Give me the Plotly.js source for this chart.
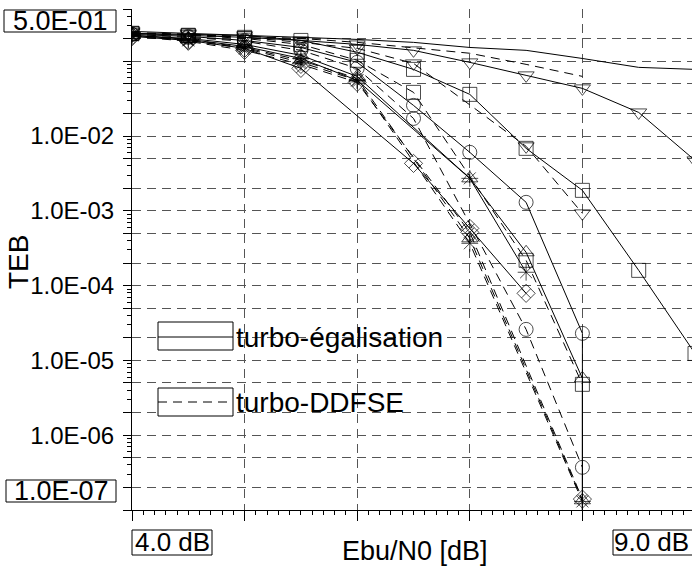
<!DOCTYPE html>
<html><head><meta charset="utf-8">
<script src="https://cdn.plot.ly/plotly-3.0.1.min.js"></script>
<style>html,body{margin:0;padding:0;overflow:hidden;background:#fff}</style>
</head><body><div id="chart" style="width:696px;height:577px"></div>
<script>
// ---- data (Eb/N0 in dB, BER "TEB") ----
const ebn0All   = [4.0,4.5,5.0,5.5,6.0,6.5,7.0,7.5,8.0,8.5,9.0];
const ebn0To8   = [4.0,4.5,5.0,5.5,6.0,6.5,7.0,7.5,8.0];
const ebn0Skip7 = [4.0,4.5,5.0,5.5,6.0,6.5,7.5,8.0];
const ebn0Tri   = [4.0,4.5,5.0,5.5,6.0,7.0,7.5,8.0];
const ebn0Star  = [4.0,4.5,5.0,5.5,6.0,7.0,7.5];
const ebn0Xd    = [4.0,4.5,5.0,5.5,6.5,7.0,7.5];
const ebn0Best  = [4.0,4.5,5.0,5.5,6.0,7.0,8.0];

const tebRefSolid   = [0.236,0.229,0.222,0.209,0.196,0.179,0.153,0.140,0.109,0.0829,0.0779];
const tebRefDashed  = [0.236,0.229,0.215,0.202,0.179,0.153,0.128,0.0909,0.0628];
const tebTriDnSolid = [0.251,0.236,0.222,0.190,0.168,0.140,0.0967,0.0648,0.0434,0.0207,0.00473];
const tebTriDnDash  = [0.243,0.229,0.209,0.179,0.149,0.0937,0.00729,0.000926];
const tebSqSolid    = [0.236,0.222,0.209,0.190,0.132,0.0779,0.0361,0.00685,0.00188,0.000160,0.0000124];
const tebSqDash     = [0.236,0.222,0.202,0.168,0.103,0.0384,0.000218,0.00000479];
const tebCircSolid  = [0.229,0.215,0.190,0.153,0.0967,0.0257,0.00606,0.00130,0.0000230];
const tebCircDash   = [0.229,0.209,0.185,0.140,0.0804,0.0172,0.0000260,0.000000372];
const tebTriUpSolid = [0.222,0.202,0.168,0.120,0.0628,0.00272,0.000279,0.00000576];
const tebStarSolid  = [0.222,0.196,0.158,0.109,0.0556,0.00272,0.000151];
const tebXdSolid    = [0.215,0.190,0.149,0.0804,0.00431,0.000583,0.0000789];
const tebTriUpDash  = [0.222,0.196,0.153,0.103,0.0590,0.000429,0.000000135];
const tebStarDash   = [0.222,0.190,0.149,0.0967,0.0556,0.000368,0.000000130];
const tebXdDash     = [0.215,0.185,0.140,0.0909,0.0522,0.000516,0.000000140];
const tebFloor = 1e-7;

const yTickVals  = [1e-7,2e-7,5e-7,1e-6,2e-6,5e-6,1e-5,2e-5,5e-5,1e-4,2e-4,5e-4,1e-3,2e-3,5e-3,1e-2,2e-2,5e-2,1e-1,2e-1,5e-1];
const yTickText  = ['','','','1.0E-06','','','1.0E-05','','','1.0E-04','','','1.0E-03','','','1.0E-02','','','','',''];
const yMinorVals = [];
for (let d=-7; d<0; d++) for (const m of [3,4,6,7,8,9]) { const v=m*Math.pow(10,d); if (v<0.5) yMinorVals.push(v); }
const xTickVals = [4,5,6,7,8,9];
const legendLabels = ['turbo-égalisation','turbo-DDFSE'];
const axisTitles = {x:'Ebu/N0 [dB]', y:'TEB'};
const cornerLabels = {yTop:'5.0E-01', yBot:'1.0E-07', xLeft:'4.0 dB', xRight:'9.0 dB'};

// ---- series definitions ----
const series = [
  {x:ebn0All,   y:tebRefSolid,   sym:null, dash:'solid'},
  {x:ebn0To8,   y:tebRefDashed,  sym:null, dash:'dash'},
  {x:ebn0All,   y:tebTriDnSolid, sym:'triangle-down-open', dash:'solid'},
  {x:ebn0Skip7, y:tebTriDnDash,  sym:'triangle-down-open', dash:'dash'},
  {x:ebn0All,   y:tebSqSolid,    sym:'square-open', dash:'solid'},
  {x:ebn0Skip7, y:tebSqDash,     sym:'square-open', dash:'dash'},
  {x:ebn0To8,   y:tebCircSolid,  sym:'circle-open', dash:'solid', drop:true},
  {x:ebn0Skip7, y:tebCircDash,   sym:'circle-open', dash:'dash'},
  {x:ebn0Tri,   y:tebTriUpSolid, sym:'triangle-up-open', dash:'solid', drop:true},
  {x:ebn0Star,  y:tebStarSolid,  sym:'asterisk-open', dash:'solid'},
  {x:ebn0Xd,    y:tebXdSolid,    sym:'diamond-x-open', dash:'solid'},
  {x:ebn0Best,  y:tebTriUpDash,  sym:'triangle-up-open', dash:'dash'},
  {x:ebn0Best,  y:tebStarDash,   sym:'asterisk-open', dash:'dash'},
  {x:ebn0Best,  y:tebXdDash,     sym:'diamond-x-open', dash:'dash'}
];

const DASH = '9px,6px';
const traces = series.map(s => {
  let xs = s.x.slice(), ys = s.y.slice();
  let sizes = xs.map(() => 14);
  if (s.drop) { xs.push(xs[xs.length-1]); ys.push(tebFloor); sizes.push(0); }
  const t = {
    type:'scatter', x:xs, y:ys, showlegend:false, cliponaxis:true,
    mode: s.sym ? 'lines+markers' : 'lines',
    line:{color:'#000', width:1, dash: s.dash==='dash' ? DASH : 'solid'}
  };
  if (s.sym) t.marker = {symbol:s.sym, size:sizes, color:'#000', line:{color:'#000', width:1}};
  return t;
});

// ---- pixel helpers for layout decorations ----
const FW=696, FH=577, ML=132, MT=9, MR=1, MB=67;
const PW=FW-ML-MR, PH=FH-MT-MB;
const px = v => (v-ML)/PW;
const py = v => (FH-MB-v)/PH;
const FONT = 'Liberation Sans, Arial, sans-serif';

const box = (x0,y0,x1,y1,fill) => ({type:'rect', xref:'paper', yref:'paper', x0:px(x0), x1:px(x1), y0:py(y1), y1:py(y0), line:{color:'#000', width:1}, fillcolor:fill||'rgba(0,0,0,0)', layer:'above'});
const hline = (x0,x1,y,dash) => ({type:'line', xref:'paper', yref:'paper', x0:px(x0), x1:px(x1), y0:py(y), y1:py(y), line:{color:'#000', width:1, dash:dash}, layer:'above'});

const shapes = [
  box(4,10,116,32,'#fff'), box(6,480,116,502,'#fff'), box(132,530,212,555), box(613,530,700,555),
  box(158,322,233,350,'#fff'), hline(158,233,337,'solid'),
  box(158,388,233,416,'#fff'), hline(158,233,402,DASH)
];
const ann = (text,x,y,xa,size,extra) => Object.assign({text, xref:'paper', yref:'paper', x:px(x), y:py(y), xanchor:xa, yanchor:'middle', showarrow:false, font:{family:FONT, size:size, color:'#000'}}, extra||{});
const annotations = [
  ann(cornerLabels.yTop, 60, 21, 'center', 27),
  ann(cornerLabels.yBot, 61, 491, 'center', 27),
  ann(cornerLabels.xLeft, 172, 542, 'center', 26),
  ann(cornerLabels.xRight, 651, 542, 'center', 26),
  ann(axisTitles.x, 415, 551, 'center', 27),
  ann(axisTitles.y, 18, 262, 'center', 28, {textangle:-90}),
  ann(legendLabels[0], 234, 337, 'left', 28),
  ann(legendLabels[1], 234, 402, 'left', 28)
];

const layout = {
  width:FW, height:FH, margin:{l:ML, r:MR, t:MT, b:MB, pad:0},
  paper_bgcolor:'#fff', plot_bgcolor:'#fff',
  font:{family:FONT, color:'#000', size:22},
  xaxis:{range:[4,9], tickmode:'array', tickvals:xTickVals, ticktext:xTickVals.map(()=>''),
    showline:true, linecolor:'#000', linewidth:1, ticks:'outside', ticklen:10, tickcolor:'#000',
    showgrid:true, gridcolor:'#555', griddash:DASH, gridwidth:1, zeroline:false,
    minor:{dtick:0.1, ticks:'outside', ticklen:4, tickcolor:'#000', showgrid:false}},
  yaxis:{type:'log', range:[-7, Math.log10(0.5)], tickmode:'array', tickvals:yTickVals, ticktext:yTickText,
    showline:true, linecolor:'#000', linewidth:1, ticks:'outside', ticklen:8, tickcolor:'#000',
    ticklabelstandoff:4, tickfont:{family:FONT, size:24, color:'#000'},
    showgrid:true, gridcolor:'#555', griddash:DASH, gridwidth:1, zeroline:false,
    minor:{tickmode:'array', tickvals:yMinorVals, ticks:'outside', ticklen:4, tickcolor:'#000', showgrid:false}},
  shapes, annotations
};
Plotly.newPlot('chart', traces, layout, {staticPlot:true, displayModeBar:false});
</script></body></html>
